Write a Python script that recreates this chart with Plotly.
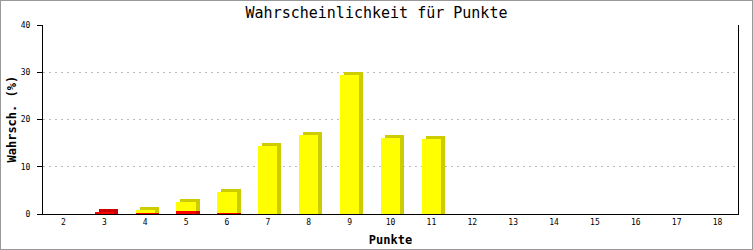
import plotly.graph_objects as go

# Data
punkte = list(range(2, 19))
red_vals = [0, 0.5, 0.2, 0.55, 0.2, 0, 0, 0, 0, 0, 0, 0, 0, 0, 0, 0, 0]
yellow_vals = [0, 0, 0.65, 2.0, 4.45, 14.45, 16.7, 29.4, 16.1, 15.9, 0, 0, 0, 0, 0, 0, 0]
y_ticks = [0, 10, 20, 30, 40]

W, H = 753, 250
ML, MR, MT, MB = 43, 15, 25, 36
PW, PH = W - ML - MR, H - MT - MB
YMAX = 40
XMIN, XMAX = 1.5, 18.5

bar_w = 0.47
px_x = (XMAX - XMIN) / PW
px_y = YMAX / PH
dx = 4 * px_x
dy = 3 * px_y

font = "DejaVu Sans Mono"

fig = go.Figure()

# 3D side/top faces (darker, shifted right and up)
red_side = [v + dy if v > 0 else 0 for v in red_vals]
yellow_side = [v + dy if v > 0 else 0 for v in yellow_vals]
fig.add_trace(go.Bar(x=punkte, y=red_side, base=[0] * len(punkte), width=bar_w,
                     offset=-bar_w / 2 + dx, marker=dict(color="#cc0000", line=dict(width=0)),
                     hoverinfo="skip", showlegend=False))
fig.add_trace(go.Bar(x=punkte, y=yellow_side, base=red_vals, width=bar_w,
                     offset=-bar_w / 2 + dx, marker=dict(color="#cccc00", line=dict(width=0)),
                     hoverinfo="skip", showlegend=False))
# front faces
fig.add_trace(go.Bar(x=punkte, y=red_vals, base=[0] * len(punkte), width=bar_w,
                     offset=-bar_w / 2, marker=dict(color="#ff0000", line=dict(width=0)),
                     showlegend=False))
fig.add_trace(go.Bar(x=punkte, y=yellow_vals, base=red_vals, width=bar_w,
                     offset=-bar_w / 2, marker=dict(color="#ffff00", line=dict(width=0)),
                     showlegend=False))

fig.update_layout(
    width=W, height=H,
    margin=dict(l=ML, r=MR, t=MT, b=MB, pad=0, autoexpand=False),
    paper_bgcolor="white", plot_bgcolor="white",
    barmode="overlay",
    bargap=0,
    title=dict(text="Wahrscheinlichkeit für Punkte", x=0.5, xref="container", xanchor="center",
               y=1 - 13 / H, yref="container", yanchor="middle", automargin=False,
               font=dict(family=font, size=15, color="black")),
    xaxis=dict(range=[XMIN, XMAX], tickmode="array", tickvals=punkte, automargin=False,
               ticktext=[str(p) for p in punkte], showgrid=False, zeroline=False,
               showline=True, linecolor="black", linewidth=1, mirror=False, ticks="",
               tickfont=dict(family=font, size=8, color="black"),
               title=dict(text="<b>Punkte</b>", standoff=10,
                          font=dict(family=font, size=12, color="black"))),
    yaxis=dict(range=[0, YMAX], tickmode="array", tickvals=y_ticks, automargin=False,
               ticktext=[str(t) for t in y_ticks], showgrid=True, gridcolor="#bbbbbb",
               griddash="2px,4px", gridwidth=1, zeroline=False,
               showline=True, linecolor="black", linewidth=1, mirror=True,
               ticks="outside", ticklen=5, tickcolor="black", ticklabelstandoff=5,
               tickfont=dict(family=font, size=8, color="black")),
    annotations=[dict(text="<b>Wahrsch. (%)</b>", textangle=-90, showarrow=False,
                      xref="paper", yref="paper", x=(11 - ML) / PW, y=0.5,
                      xanchor="center", yanchor="middle",
                      font=dict(family=font, size=12, color="black"))],
    shapes=[dict(type="rect", xref="paper", yref="paper",
                 x0=-ML / PW, x1=1 + MR / PW, y0=-MB / PH, y1=1 + MT / PH,
                 line=dict(color="#999999", width=2), fillcolor="rgba(0,0,0,0)", layer="above")],
)

fig.write_html("out.html")
